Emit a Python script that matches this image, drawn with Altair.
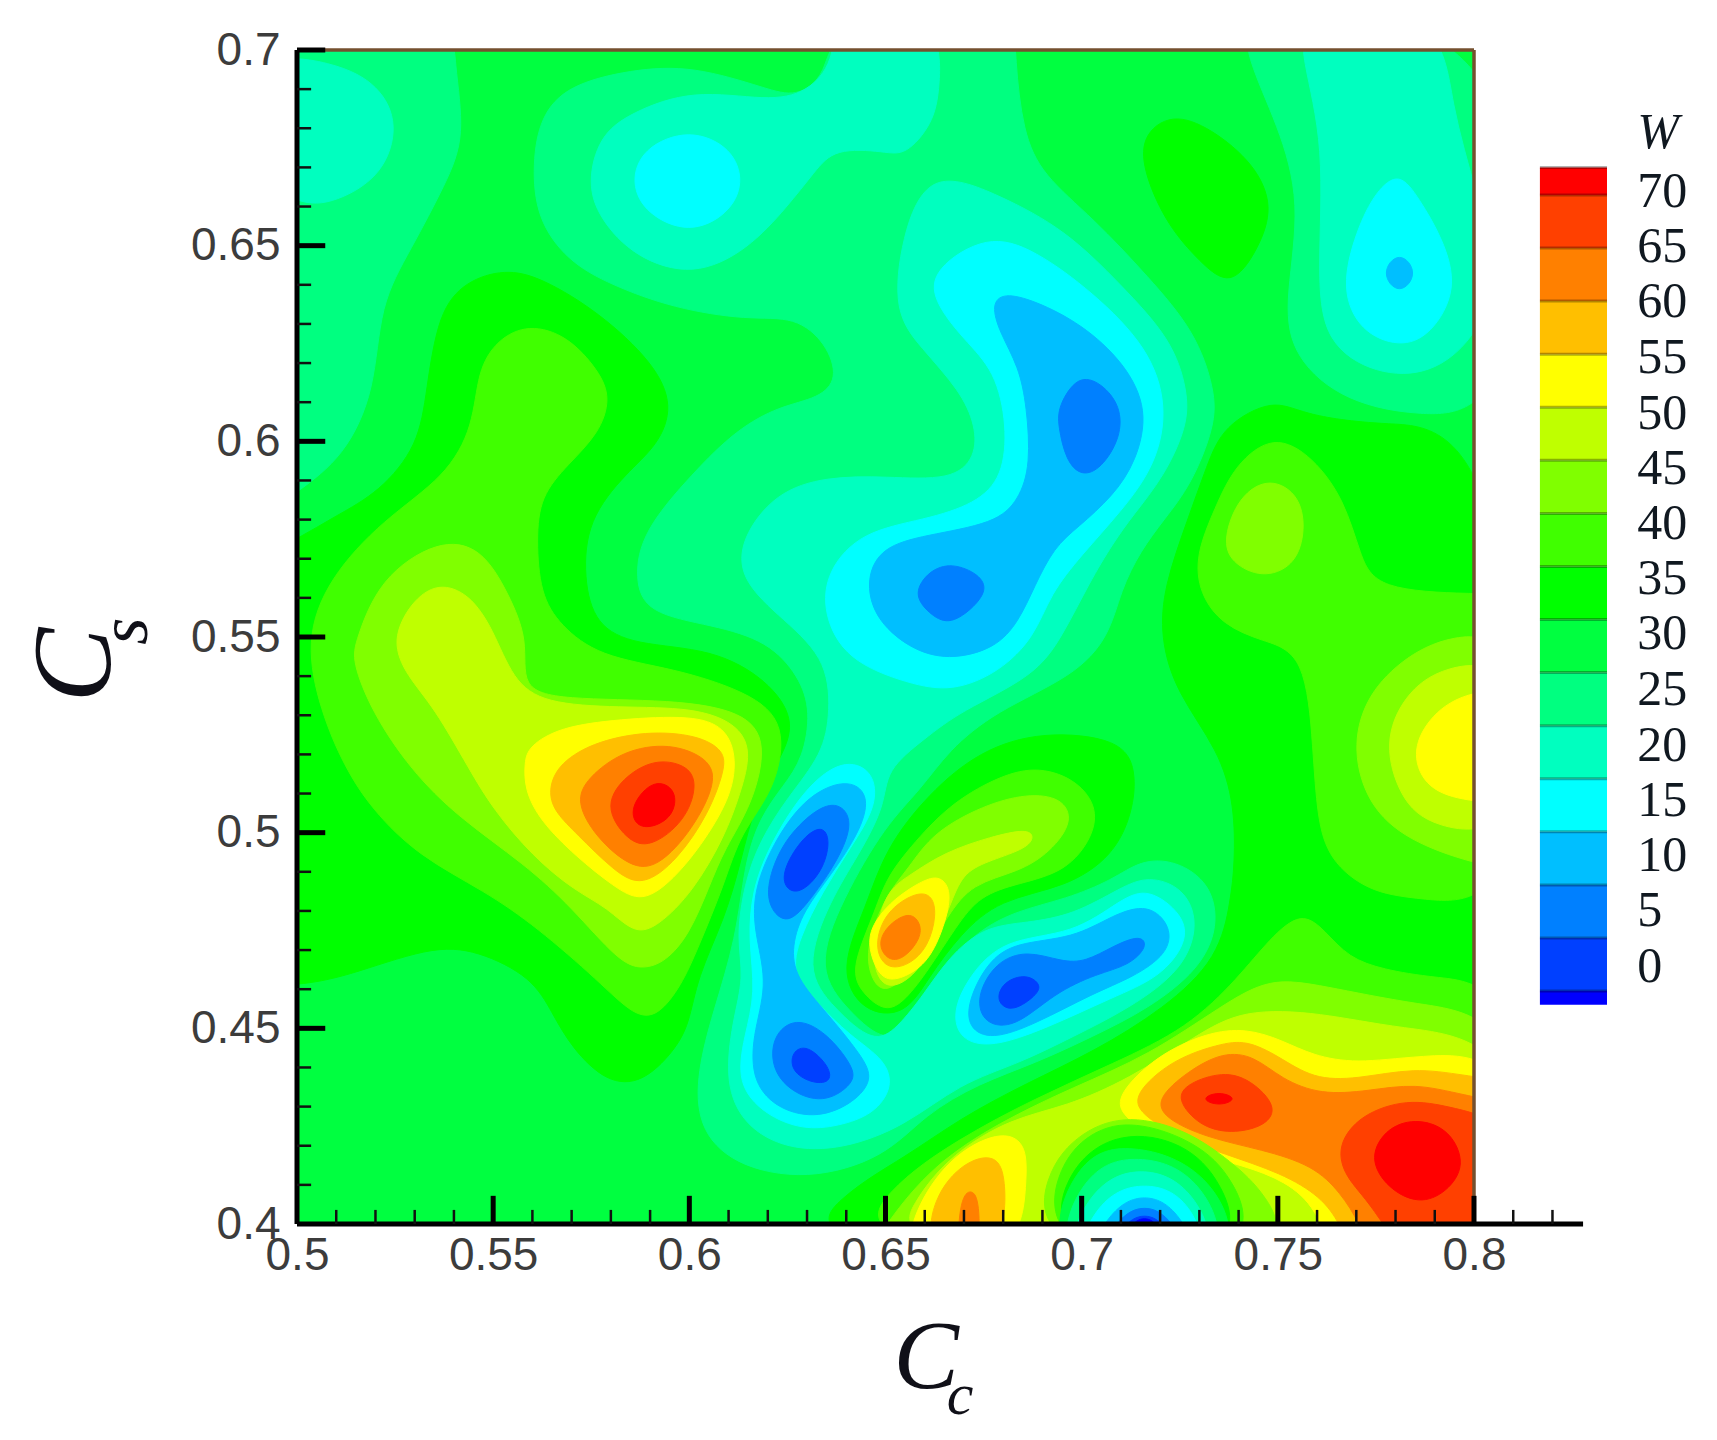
"""Contour map of W over C_c and C_s, with its colour bar"""

import altair as alt
import pandas as pd

# colour bands, named by their lower limit
levels = [-10, -5, 0, 5, 10, 15, 20, 25, 30, 35, 40, 45, 50, 55, 60, 65, 70]
band_colors = ["#0000FF", "#0040FF", "#0080FF", "#00BFFF", "#00FFFF", "#00FFBF",
               "#00FF80", "#00FF40", "#00FF00", "#40FF00", "#80FF00", "#BFFF00",
               "#FFFF00", "#FFBF00", "#FF8000", "#FF4000", "#FF0000"]

# contours, (C_c, C_s) in thousandths
w30_left = [(490, 570), (500, 575), (510, 581), (521, 587), (531, 599), (533, 613), (536, 633), (543, 641),
            (553, 644), (562, 642), (577, 633), (591, 620), (596, 609), (592, 599), (584, 592), (574, 580),
            (573, 565), (576, 553), (586, 548), (606, 547), (620, 539), (627, 529), (624, 520), (617, 509),
            (613, 492), (609, 478), (602, 463), (600, 451), (596, 444), (588, 436), (579, 436), (570, 445),
            (565, 454), (560, 463), (546, 470), (534, 471), (512, 463), (500, 461), (490, 461)]
w30_ridge = [(638, 465), (645, 481), (650, 496), (661, 510), (674, 521), (690, 526), (710, 524), (714, 516),
             (713, 505), (708, 494), (696, 486), (679, 483), (669, 474), (661, 463), (655, 453), (644, 454)]
w30_right = [(813, 604), (775, 604), (756, 607), (749, 611), (736, 604), (732, 594), (727, 580), (721, 563),
             (720, 550), (724, 536), (735, 521), (739, 507), (739, 492), (738, 483), (735, 468), (721, 455),
             (703, 444), (686, 436), (669, 427), (655, 417), (639, 408), (625, 391), (813, 391)]
w30_blob = [(715, 678), (723, 684), (733, 680), (744, 671), (749, 660), (745, 649), (738, 639), (730, 646),
            (722, 655), (716, 668)]
w35_left = [(502, 549), (508, 565), (522, 580), (538, 591), (545, 604), (546, 618), (551, 626), (559, 630),
            (569, 627), (577, 618), (580, 611), (577, 602), (569, 594), (562, 586), (561, 575), (562, 561),
            (567, 553), (577, 545), (596, 542), (615, 536), (625, 528), (622, 511), (613, 500), (609, 487),
            (602, 470), (598, 461), (592, 453), (586, 453), (577, 462), (561, 476), (548, 485), (531, 494),
            (519, 506), (512, 517), (506, 531)]
w35_ridge = [(688, 517), (698, 514), (704, 507), (703, 499), (696, 490), (684, 487), (674, 484), (668, 476),
             (661, 465), (655, 457), (650, 454), (644, 459), (641, 465), (647, 479), (650, 488), (656, 496),
             (666, 507), (678, 514)]
w35_hill = [(749, 602), (759, 596), (767, 585), (771, 571), (775, 562), (800, 561), (813, 561), (813, 481),
            (785, 483), (773, 485), (763, 493), (760, 504), (759, 521), (757, 546), (746, 549), (736, 553),
            (730, 561), (729, 571), (734, 583), (739, 594)]
w35_band = [(813, 461), (789, 463), (777, 465), (768, 468), (762, 475), (756, 480), (748, 473), (740, 463),
            (727, 450), (708, 441), (688, 432), (669, 422), (650, 409), (640, 391), (813, 391)]
w40_left = [(515, 549), (521, 565), (536, 575), (547, 573), (554, 561), (559, 549), (557, 537), (567, 534),
            (596, 534), (614, 531), (620, 523), (616, 507), (609, 496), (605, 486), (600, 474), (594, 467),
            (588, 465), (582, 467), (570, 481), (558, 492), (541, 504), (529, 516), (519, 531), (514, 544)]
w40_ridge = [(686, 510), (695, 509), (698, 503), (692, 495), (684, 490), (672, 487), (666, 479), (659, 467),
             (650, 458), (646, 463), (645, 471), (650, 484), (656, 491), (662, 500), (675, 507)]
w40_hill = [(748, 591), (756, 586), (757, 576), (754, 568), (746, 565), (738, 569), (736, 575), (740, 586)]
w40_edge = [(813, 550), (794, 551), (781, 544), (772, 534), (769, 521), (773, 507), (783, 498), (800, 492),
            (813, 490)]
w40_band = [(813, 453), (785, 456), (761, 461), (748, 463), (736, 456), (717, 443), (698, 435), (679, 426),
            (662, 415), (650, 400), (645, 391), (813, 391)]
w45_left = [(524, 549), (529, 559), (536, 564), (544, 561), (550, 552), (555, 539), (563, 533), (582, 532),
            (601, 532), (612, 528), (616, 521), (613, 510), (609, 499), (601, 485), (592, 476), (586, 474),
            (579, 481), (571, 485), (560, 494), (550, 506), (544, 516), (535, 532), (528, 540)]
w45_ridge = [(686, 501), (688, 499), (686, 496), (677, 493), (670, 490), (667, 483), (662, 470), (656, 462),
             (650, 460), (647, 465), (647, 473), (650, 485), (656, 489), (665, 495), (677, 499)]
w45_edge = [(813, 544), (792, 543), (782, 535), (777, 523), (781, 509), (789, 501), (813, 499)]
w45_band = [(813, 447), (780, 450), (761, 454), (741, 455), (729, 448), (712, 437), (696, 430), (682, 427),
            (667, 418), (657, 406), (651, 391), (813, 391)]
w50_left = [(558, 518), (559, 522), (567, 527), (582, 529), (601, 530), (609, 527), (612, 520), (611, 510),
            (604, 498), (596, 488), (588, 482), (581, 486), (571, 494), (562, 503), (558, 511)]
w50_ridge = [(660, 488), (664, 489), (667, 485), (665, 476), (661, 467), (655, 463), (650, 462), (647, 466),
             (645, 474), (650, 481), (655, 485)]
w50_edge = [(813, 537), (797, 536), (788, 529), (784, 520), (788, 511), (798, 508), (813, 507)]
w50_band = [(813, 444), (785, 443), (770, 441), (759, 443), (751, 447), (742, 450), (732, 449), (719, 443),
            (709, 433), (710, 428), (717, 423), (729, 418), (741, 415), (752, 411), (760, 404), (764, 391),
            (813, 391)]
w50_foot = [(655, 391), (657, 403), (666, 417), (679, 424), (686, 421), (686, 411), (684, 391)]
w55_left = [(564, 510), (566, 517), (575, 523), (589, 526), (602, 525), (609, 521), (609, 516), (605, 505),
            (597, 493), (588, 486), (581, 490), (571, 500), (566, 505)]
w55_ridge = [(658, 485), (662, 484), (663, 479), (661, 471), (656, 466), (650, 465), (647, 471), (650, 480)]
w55_band = [(813, 436), (797, 438), (785, 440), (770, 437), (759, 437), (750, 443), (742, 447), (735, 446),
            (723, 442), (713, 433), (715, 428), (725, 422), (736, 418), (751, 413), (761, 407), (766, 400),
            (769, 391), (813, 391)]
w55_foot = [(660, 391), (662, 407), (670, 416), (678, 418), (681, 412), (680, 391)]
w60_left = [(571, 508), (574, 514), (583, 521), (595, 523), (605, 519), (607, 513), (601, 501), (592, 491),
            (585, 491), (576, 499)]
w60_ridge = [(656, 480), (659, 477), (659, 473), (655, 468), (651, 467), (648, 471), (650, 476)]
w60_band = [(813, 430), (797, 433), (785, 436), (773, 434), (761, 433), (751, 437), (744, 443), (736, 444),
            (727, 439), (719, 432), (721, 427), (732, 422), (746, 419), (759, 415), (766, 408), (771, 400),
            (774, 391), (813, 391)]
w60_foot = [(668, 391), (669, 407), (672, 409), (674, 406), (674, 391)]
w65_left = [(578, 507), (584, 515), (592, 519), (600, 517), (602, 512), (599, 503), (590, 496), (584, 498)]
w65_mid = [(724, 432), (727, 436), (736, 439), (743, 437), (750, 430), (747, 425), (738, 423), (730, 425)]
w65_corner = [(765, 420), (771, 428), (783, 432), (794, 430), (813, 425), (813, 391), (782, 391), (774, 405),
              (767, 412)]
w70_left = [(585, 507), (591, 514), (597, 511), (596, 504), (590, 501), (586, 502)]
w70_mid = [(730, 432), (735, 434), (740, 432), (735, 430)]
w70_corner = [(773, 417), (778, 425), (786, 427), (794, 424), (798, 415), (793, 408), (786, 405), (778, 409)]

# the valley at the bottom edge, drawn over the bands
v40 = [(689, 391), (690, 413), (700, 424), (712, 428), (727, 424), (738, 416), (747, 408), (755, 391)]
v35 = [(691, 391), (693, 415), (704, 425), (715, 426), (729, 421), (739, 412), (746, 391)]
v30 = [(691, 391), (696, 415), (710, 424), (726, 421), (736, 411), (742, 391)]
v25 = [(688, 385), (698, 417), (712, 421), (734, 414), (744, 385)]
v20 = [(690, 385), (700, 414), (714, 418), (731, 413), (741, 385)]
v15 = [(692, 385), (702, 410), (715, 415), (729, 410), (738, 385)]
v10 = [(695, 385), (704, 407), (716, 411), (728, 407), (735, 385)]
v5 = [(698, 385), (707, 404), (716, 408), (725, 404), (733, 385)]
v0 = [(700, 385), (709, 402), (716, 405), (723, 402), (731, 385)]
vm5 = [(703, 385), (710, 400), (716, 403), (722, 400), (729, 385)]
vm10 = [(708, 388), (712, 400), (716, 402), (720, 400), (724, 388)]

w20_corner = [(540, 710), (540, 697), (543, 678), (538, 666), (529, 649), (521, 635), (520, 613), (512, 596),
              (500, 587), (490, 580), (481, 604), (481, 681), (490, 710)]
w20_main = [(560, 671), (562, 683), (569, 691), (585, 695), (601, 696), (620, 690), (627, 688), (635, 693),
            (637, 710), (683, 710), (683, 698), (685, 679), (690, 668), (703, 657), (717, 642), (729, 628),
            (734, 613), (734, 604), (728, 589), (721, 580), (715, 572), (710, 562), (707, 550), (698, 540),
            (678, 531), (666, 521), (659, 511), (650, 502), (639, 483), (632, 465), (641, 454), (650, 446),
            (657, 451), (663, 463), (672, 474), (683, 480), (696, 483), (708, 488), (715, 493), (724, 493),
            (733, 487), (735, 476), (730, 465), (717, 455), (703, 448), (688, 441), (674, 436), (660, 428),
            (650, 417), (630, 411), (611, 415), (602, 425), (602, 439), (606, 454), (612, 473), (614, 492),
            (618, 504), (624, 512), (629, 519), (631, 531), (628, 540), (620, 549), (606, 553), (589, 556),
            (586, 565), (588, 577), (601, 592), (612, 603), (623, 609), (633, 611), (638, 616), (635, 625),
            (627, 632), (615, 631), (596, 634), (580, 640), (569, 646), (561, 657)]
w20_right = [(741, 710), (742, 698), (750, 681), (756, 661), (752, 637), (753, 623), (765, 611), (785, 606),
             (813, 608), (813, 710)]
w15_corner = [(526, 681), (522, 668), (510, 661), (500, 660), (486, 671), (486, 700), (510, 697), (521, 691)]
w15_top = [(574, 666), (577, 678), (585, 684), (601, 690), (620, 687), (630, 689), (637, 697), (637, 710),
           (664, 710), (664, 690), (662, 681), (655, 673), (650, 674), (637, 675), (632, 669), (625, 660),
           (615, 649), (601, 642), (586, 647), (577, 657)]
w15_right = [(756, 710), (756, 698), (762, 676), (760, 642), (762, 625), (775, 617), (789, 617), (800, 626),
             (806, 640), (801, 663), (794, 686), (792, 710)]
w15_main = [(661, 670), (679, 663), (696, 654), (710, 640), (723, 626), (727, 613), (727, 604), (721, 591),
            (713, 581), (708, 574), (702, 564), (695, 550), (688, 540), (669, 531), (660, 524), (650, 516),
            (650, 507), (643, 494), (636, 483), (629, 465), (637, 455), (647, 446), (653, 450), (660, 459),
            (666, 468), (675, 476), (686, 477), (698, 479), (710, 486), (717, 489), (726, 486), (730, 477),
            (726, 465), (712, 455), (698, 448), (684, 441), (669, 436), (655, 425), (639, 419), (625, 419),
            (614, 425), (609, 436), (611, 452), (614, 463), (612, 473), (614, 487), (618, 498), (625, 509),
            (634, 520), (636, 531), (635, 545), (622, 556), (613, 565), (613, 575), (622, 587), (635, 591),
            (650, 591), (667, 590), (673, 596), (673, 604), (669, 613), (659, 624), (652, 633), (654, 652)]
w10_top = [(585, 666), (588, 675), (600, 680), (611, 675), (614, 666), (610, 658), (600, 653), (589, 658)]
w10_right = [(781, 669), (786, 662), (792, 652), (796, 639), (789, 627), (781, 624), (771, 628), (766, 639),
             (770, 654), (775, 664)]
w10_main = [(676, 653), (688, 649), (703, 638), (717, 624), (722, 609), (719, 594), (710, 582), (700, 571),
            (692, 561), (688, 550), (679, 541), (667, 536), (656, 538), (640, 544), (634, 556), (635, 567),
            (644, 577), (660, 580), (673, 584), (680, 591), (681, 604), (678, 618), (670, 626), (662, 636),
            (662, 644)]
w10_lower = [(639, 519), (647, 516), (648, 507), (641, 496), (634, 485), (628, 473), (626, 464), (632, 457),
             (641, 448), (650, 442), (652, 435), (647, 428), (638, 425), (629, 424), (619, 428), (612, 436),
             (614, 448), (617, 459), (615, 473), (616, 485), (620, 496), (629, 511)]
w10_third = [(717, 486), (726, 479), (727, 472), (720, 463), (708, 458), (691, 450), (677, 445), (669, 447),
             (667, 454), (671, 463), (680, 473), (698, 474), (710, 483)]
w5_dot = [(781, 649), (786, 643), (781, 637), (776, 643)]
w5_main = [(677, 635), (680, 638), (688, 636), (700, 630), (711, 620), (717, 608), (714, 595), (708, 586),
           (699, 578), (693, 573), (688, 563), (684, 554), (678, 547), (666, 544), (656, 547), (647, 555),
           (645, 565), (649, 573), (660, 576), (678, 579), (684, 585), (687, 594), (686, 609), (684, 619),
           (679, 628)]
w5_lower = [(640, 514), (646, 510), (644, 501), (636, 489), (629, 480), (626, 471), (627, 463), (635, 454),
            (644, 443), (647, 437), (642, 431), (633, 427), (623, 429), (616, 436), (616, 448), (620, 461),
            (617, 473), (616, 483), (620, 495), (629, 509)]
w5_third = [(717, 482), (723, 476), (722, 469), (713, 463), (703, 459), (688, 451), (677, 447), (671, 450),
            (671, 457), (676, 467), (683, 472), (698, 473), (708, 479)]
w0_upper = [(694, 609), (699, 617), (705, 615), (710, 609), (710, 601), (705, 593), (700, 591), (696, 595),
            (694, 604)]
w0_centre = [(657, 561), (661, 567), (667, 569), (674, 566), (676, 562), (672, 557), (666, 553), (661, 556)]
w0_lower_a = [(638, 508), (642, 503), (638, 493), (631, 483), (625, 476), (620, 481), (620, 488), (624, 498),
              (632, 506)]
w0_lower_b = [(627, 453), (635, 449), (642, 440), (642, 436), (635, 431), (627, 433), (621, 439), (621, 448)]
w0_third = [(715, 474), (717, 471), (712, 466), (704, 464), (693, 459), (683, 450), (675, 451), (673, 458),
            (678, 467), (686, 470), (695, 467), (701, 467), (708, 471)]
wm5_a = [(634, 502), (636, 498), (634, 490), (628, 484), (624, 486), (624, 491), (629, 499)]
wm5_b = [(630, 446), (636, 440), (636, 436), (631, 436), (626, 439), (626, 444)]
wm5_c = [(686, 464), (690, 461), (688, 458), (682, 454), (678, 457), (680, 462)]

contours = [
    (30, w30_left), (30, w30_ridge), (30, w30_right), (30, w30_blob),
    (35, w35_left), (35, w35_ridge), (35, w35_hill), (35, w35_band),
    (40, w40_left), (40, w40_ridge), (40, w40_hill), (40, w40_edge), (40, w40_band),
    (45, w45_left), (45, w45_ridge), (45, w45_edge), (45, w45_band),
    (50, w50_left), (50, w50_ridge), (50, w50_edge), (50, w50_band), (50, w50_foot),
    (55, w55_left), (55, w55_ridge), (55, w55_band), (55, w55_foot),
    (60, w60_left), (60, w60_ridge), (60, w60_band), (60, w60_foot),
    (65, w65_left), (65, w65_mid), (65, w65_corner),
    (70, w70_left), (70, w70_mid), (70, w70_corner),
    (40, v40), (35, v35), (30, v30), (25, v25),
    (20, w20_corner), (20, w20_main), (20, w20_right), (20, v20),
    (15, w15_corner), (15, w15_top), (15, w15_right), (15, w15_main), (15, v15),
    (10, w10_top), (10, w10_right), (10, w10_main), (10, w10_lower), (10, w10_third), (10, v10),
    (5, w5_dot), (5, w5_main), (5, w5_lower), (5, w5_third), (5, v5),
    (0, w0_upper), (0, w0_centre), (0, w0_lower_a), (0, w0_lower_b), (0, w0_third), (0, v0),
    (-5, wm5_a), (-5, wm5_b), (-5, wm5_c), (-5, vm5), (-10, vm10),
]

# axes
x_labels = [0.5, 0.55, 0.6, 0.65, 0.7, 0.75, 0.8]
y_labels = [0.4, 0.45, 0.5, 0.55, 0.6, 0.65, 0.7]
x_major = [0.55, 0.6, 0.65, 0.7, 0.75, 0.8]
x_minor = [0.51, 0.52, 0.53, 0.54, 0.56, 0.57, 0.58, 0.59, 0.61, 0.62, 0.63, 0.64, 0.66, 0.67, 0.68, 0.69,
           0.71, 0.72, 0.73, 0.74, 0.76, 0.77, 0.78, 0.79, 0.81, 0.82]
y_major = [0.45, 0.5, 0.55, 0.6, 0.65, 0.7]
y_minor = [0.41, 0.42, 0.43, 0.44, 0.46, 0.47, 0.48, 0.49, 0.51, 0.52, 0.53, 0.54, 0.56, 0.57, 0.58, 0.59,
           0.61, 0.62, 0.63, 0.64, 0.66, 0.67, 0.68, 0.69]
major_len = 0.0072
minor_len = 0.0036
x_axis_end = 0.8278

# colour bar
bar_low = [-6.3, -5, 0, 5, 10, 15, 20, 25, 30, 35, 40, 45, 50, 55, 60, 65, 70]
bar_high = [-5, 0, 5, 10, 15, 20, 25, 30, 35, 40, 45, 50, 55, 60, 65, 70, 72.6]
bar_labels = ["70", "65", "60", "55", "50", "45", "40", "35", "30", "25", "20", "15", "10", "5", "0"]
bar_label_at = [70.3, 65.1, 59.9, 54.6, 49.4, 44.2, 39.0, 33.8, 28.6, 23.4, 18.1, 12.9, 7.7, 2.5, -2.7]

X_SCALE = alt.Scale(domain=[0.5, 0.8], nice=False, zero=False)
Y_SCALE = alt.Scale(domain=[0.4, 0.7], nice=False, zero=False)
W_SCALE = alt.Scale(domain=[-26.95, 83.66], nice=False, zero=False)
BAND_SCALE = alt.Scale(domain=levels, range=band_colors)


def contour_table() -> pd.DataFrame:
    """Flattens the contour lists into one table, in drawing order"""
    rows = []
    for shape, (level, points) in enumerate(contours):
        for i, (cc, cs) in enumerate(points):
            rows.append({"shape": shape, "level": level, "i": i, "cc": cc / 1000, "cs": cs / 1000})
    return pd.DataFrame(rows)


def rule_layer(table: pd.DataFrame, color: str, width: float) -> alt.Chart:
    """Straight lines given by their two ends"""
    return alt.Chart(table).mark_rule(color=color, strokeWidth=width).encode(
        x=alt.X("cc:Q", scale=X_SCALE),
        y=alt.Y("cs:Q", scale=Y_SCALE),
        x2="cc2:Q",
        y2="cs2:Q",
    )


def ticks(values: list, along: str, length: float) -> pd.DataFrame:
    """Inward ticks on the bottom or the left axis"""
    if along == "x":
        return pd.DataFrame({"cc": values, "cc2": values, "cs": 0.4, "cs2": 0.4 + length})
    return pd.DataFrame({"cc": 0.5, "cc2": 0.5 + length, "cs": values, "cs2": values})


def label(text: str, cc: float, cs: float, size: int, angle: int = 0) -> alt.Chart:
    """One italic piece of an axis title"""
    return alt.Chart(pd.DataFrame({"t": [text], "cc": [cc], "cs": [cs]})).mark_text(
        font="Liberation Serif", fontStyle="italic", fontSize=size, color="#101018",
        align="center", baseline="alphabetic", angle=angle,
    ).encode(x=alt.X("cc:Q", scale=X_SCALE), y=alt.Y("cs:Q", scale=Y_SCALE), text="t:N")


background = alt.Chart(pd.DataFrame({"cc": [0.5], "cc2": [0.8], "cs": [0.4], "cs2": [0.7]})).mark_rect(
    color=band_colors[levels.index(25)]
).encode(
    x=alt.X("cc:Q", scale=X_SCALE, axis=alt.Axis(
        values=x_labels, format=".2~f", title=None, grid=False, domain=False, ticks=False, labelPadding=9,
        labelFont="Liberation Sans", labelFontSize=46, labelColor="#3c3c3c", labelOverlap=False,
        labelFlush=False, labelBound=False)),
    y=alt.Y("cs:Q", scale=Y_SCALE, axis=alt.Axis(
        values=y_labels, format=".2~f", title=None, grid=False, domain=False, ticks=False, labelPadding=17,
        labelFont="Liberation Sans", labelFontSize=46, labelColor="#3c3c3c", labelOverlap=False,
        labelFlush=False, labelBound=False)),
    x2="cc2:Q",
    y2="cs2:Q",
)

bands = alt.Chart(contour_table()).mark_line(
    interpolate="basis-closed", clip=True, strokeWidth=1
).encode(
    x=alt.X("cc:Q", scale=X_SCALE),
    y=alt.Y("cs:Q", scale=Y_SCALE),
    fill=alt.Fill("level:N", scale=BAND_SCALE, legend=None),
    stroke=alt.Stroke("level:N", scale=BAND_SCALE, legend=None),
    detail="shape:N",
    order="i:Q",
)

frame = rule_layer(pd.DataFrame({
    "cc": [0.5, 0.8], "cc2": [0.8, 0.8], "cs": [0.7, 0.4], "cs2": [0.7, 0.7]
}), "#75502f", 3.5)
x_line = rule_layer(pd.DataFrame({"cc": [0.5], "cc2": [x_axis_end], "cs": [0.4], "cs2": [0.4]}), "#000000", 5)
y_line = rule_layer(pd.DataFrame({"cc": [0.5], "cc2": [0.5], "cs": [0.4], "cs2": [0.7]}), "#000000", 5)
major = rule_layer(pd.concat([ticks(x_major, "x", major_len), ticks(y_major, "y", major_len)]), "#000000", 5)
minor = rule_layer(pd.concat([ticks(x_minor, "x", minor_len), ticks(y_minor, "y", minor_len)]), "#111111", 2.5)

titles = [
    label("C", 0.6604, 0.3581, 98),
    label("c", 0.669, 0.3515, 60),
    label("C", 0.4523, 0.5428, 112, 270),
    label("s", 0.4618, 0.5515, 70, 270),
]

plot = alt.layer(background, bands, frame, x_line, y_line, major, minor, *titles)

bar_table = pd.DataFrame({"low": bar_low, "high": bar_high, "level": levels, "cc": 0.8168, "cc2": 0.8339})
color_bar = alt.Chart(bar_table).mark_rect().encode(
    x=alt.X("cc:Q", scale=X_SCALE),
    x2="cc2:Q",
    y=alt.Y("low:Q", scale=W_SCALE, axis=None),
    y2="high:Q",
    fill=alt.Fill("level:N", scale=BAND_SCALE, legend=None),
)
bar_lines = alt.Chart(bar_table).mark_rule(color="#000000", opacity=0.3, strokeWidth=3).encode(
    x=alt.X("cc:Q", scale=X_SCALE),
    x2="cc2:Q",
    y=alt.Y("high:Q", scale=W_SCALE, axis=None),
)
bar_text = alt.Chart(pd.DataFrame({"t": bar_labels, "at": bar_label_at, "cc": 0.8416})).mark_text(
    font="Liberation Serif", fontSize=50, color="#101820", align="left", baseline="middle"
).encode(
    x=alt.X("cc:Q", scale=X_SCALE),
    y=alt.Y("at:Q", scale=W_SCALE, axis=None),
    text="t:N",
)
bar_title = alt.Chart(pd.DataFrame({"t": ["W"], "at": [75.8], "cc": [0.8469]})).mark_text(
    font="Liberation Serif", fontStyle="italic", fontSize=50, color="#101820", align="center", baseline="middle"
).encode(
    x=alt.X("cc:Q", scale=X_SCALE),
    y=alt.Y("at:Q", scale=W_SCALE, axis=None),
    text="t:N",
)
bar = alt.layer(color_bar, bar_lines, bar_text, bar_title)

chart = alt.layer(plot, bar).resolve_scale(y="independent").properties(
    width=1177,
    height=1174,
    padding={"left": 289, "top": 42, "right": 235, "bottom": 205},
    autosize=alt.AutoSizeParams(type="none"),
).configure_view(stroke=None)

chart.save("out.html", embed_options={"renderer": "svg", "actions": False})
